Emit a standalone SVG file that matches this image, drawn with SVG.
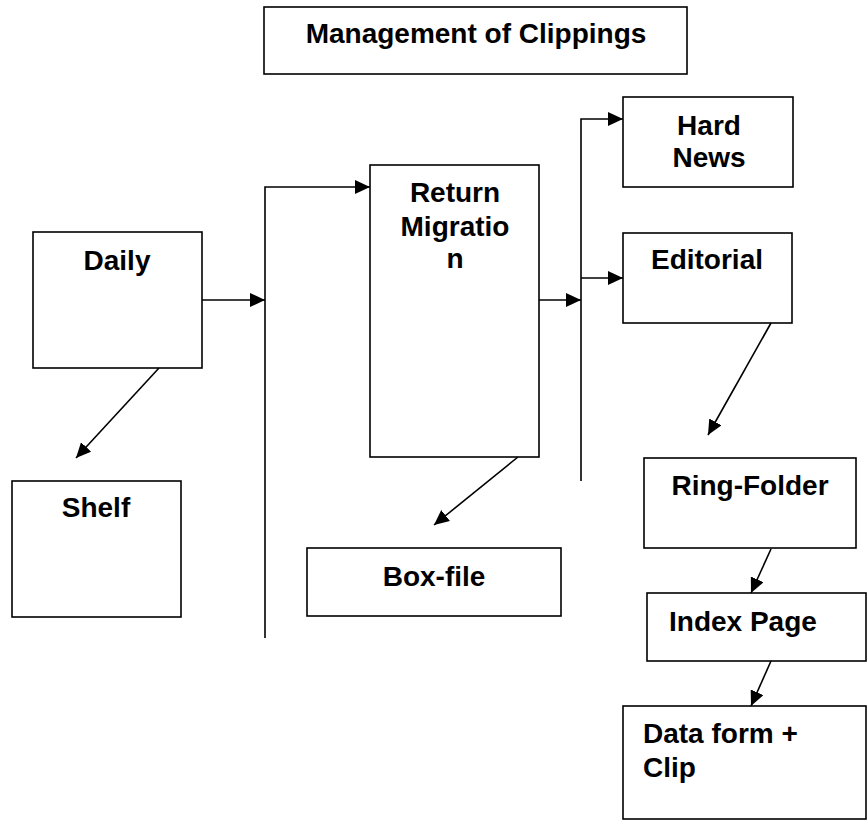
<svg xmlns="http://www.w3.org/2000/svg" width="868" height="820" viewBox="0 0 868 820">
<style>
.box{fill:#fff;stroke:#000;stroke-width:1.6}
.t{font-family:"Liberation Sans",Arial,sans-serif;font-weight:bold;font-size:28px;fill:#000}
.c{text-anchor:middle}
.ln{fill:none;stroke:#000;stroke-width:1.6}
</style>
<defs>
<marker id="ah" markerUnits="userSpaceOnUse" markerWidth="15" markerHeight="14" refX="15" refY="7" orient="auto">
<path d="M0,0 L15,7 L0,14 z" fill="#000"/>
</marker>
</defs>
<rect width="868" height="820" fill="#fff"/>
<g id="title"><rect class="box" x="264" y="7" width="423" height="67"/><text class="t c" x="476" y="43">Management of Clippings</text></g>
<g id="daily"><rect class="box" x="33" y="232" width="169" height="136"/><text class="t c" x="117" y="270">Daily</text></g>
<g id="shelf"><rect class="box" x="12" y="481" width="169" height="136"/><text class="t c" x="96" y="517">Shelf</text></g>
<g id="return-migration"><rect class="box" x="370" y="165" width="169" height="292"/><text class="t c" x="455" y="202">Return</text><text class="t c" x="455" y="236">Migratio</text><text class="t c" x="455" y="268">n</text></g>
<g id="box-file"><rect class="box" x="307" y="548" width="254" height="68"/><text class="t c" x="434" y="586">Box-file</text></g>
<g id="hard-news"><rect class="box" x="623" y="97" width="170" height="90"/><text class="t c" x="709" y="135">Hard</text><text class="t c" x="709" y="167">News</text></g>
<g id="editorial"><rect class="box" x="623" y="233" width="169" height="90"/><text class="t c" x="707" y="269">Editorial</text></g>
<g id="ring-folder"><rect class="box" x="644" y="458" width="212" height="90"/><text class="t c" x="750" y="495">Ring-Folder</text></g>
<g id="index-page"><rect class="box" x="647" y="593" width="219" height="68"/><text class="t" x="669" y="631">Index Page</text></g>
<g id="data-form"><rect class="box" x="623" y="706" width="243" height="113"/><text class="t" x="643" y="743">Data form +</text><text class="t" x="643" y="777">Clip</text></g>
<g id="connectors">
<path class="ln" d="M202,300 H265" marker-end="url(#ah)"/>
<path class="ln" d="M265,638 V187 H370" marker-end="url(#ah)"/>
<path class="ln" d="M539,300 H581" marker-end="url(#ah)"/>
<path class="ln" d="M581,481 V119 H623" marker-end="url(#ah)"/>
<path class="ln" d="M581,278 H623" marker-end="url(#ah)"/>
<path class="ln" d="M159,368 L76,458" marker-end="url(#ah)"/>
<path class="ln" d="M518,457 L434,525" marker-end="url(#ah)"/>
<path class="ln" d="M771,323 L708,435" marker-end="url(#ah)"/>
<path class="ln" d="M771,549 L751,593" marker-end="url(#ah)"/>
<path class="ln" d="M771,661 L751,706" marker-end="url(#ah)"/>
</g>
</svg>
